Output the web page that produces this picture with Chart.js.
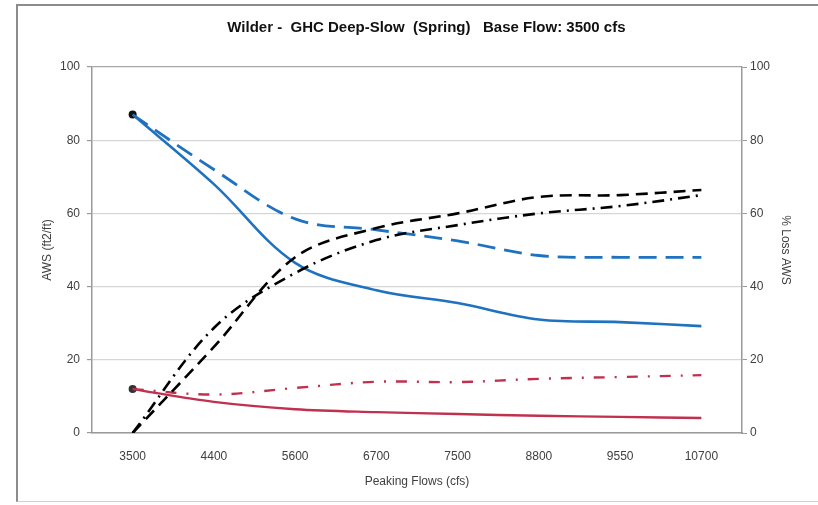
<!DOCTYPE html>
<html>
<head>
<meta charset="utf-8">
<title>Wilder - GHC Deep-Slow (Spring)</title>
<script src="https://cdn.jsdelivr.net/npm/chart.js@4.4.1/dist/chart.umd.min.js"></script>
<style>
body { margin: 0; background: #fff; overflow: hidden; }
#wrap { position: relative; width: 818px; height: 505px; }
#frame { position: absolute; left: 16px; top: 4px; width: 830px; height: 495px; border: 2px solid #8c8c8c; border-bottom: 1px solid #d0d0d0; }
#chart-canvas { position: absolute; left: 0; top: 0; }
</style>
</head>
<body>
<div id="wrap">
  <div id="frame"></div>
  <canvas id="chart-canvas" width="818" height="505"></canvas>
</div>
<script>
// peaking flows (cfs)
var flows = ['3500', '4400', '5600', '6700', '7500', '8800', '9550', '10700'];

// AWS (ft2/ft)
var awsSolidBlue = [87, 68, 46.5, 39, 35.5, 31, 30.3, 29.2];
var awsDashedBlue = [87, 72, 58.5, 55.5, 52.5, 48.5, 48, 48];
var awsSolidRed = [12, 8.5, 6.5, 5.7, 5.2, 4.7, 4.4, 4.1];
var awsDashDotRed = [12, 10.5, 12.3, 14, 13.9, 14.8, 15.3, 15.8];

// % loss AWS
var lossDashed = [0, 23.5, 48, 56, 60, 64.5, 65, 66.4];
var lossDashDot = [0, 28.7, 43.7, 52.7, 56.8, 60, 62, 65];

var yTicks = [0, 20, 40, 60, 80, 100];

var textColor = '#404040';
var font = { family: 'Liberation Sans, Arial, sans-serif', size: 12 };

function firstDot(ctx) {
    return ctx.dataIndex === 0 ? 4 : 0;
}

var chartdata = {
    labels: flows,
    datasets: [
        {
            label: 'loss dashed',
            data: lossDashed,
            yAxisID: 'y1',
            borderColor: '#000',
            borderWidth: 2.6,
            borderDash: [12, 7],
            pointRadius: 0,
            fill: false
        },
        {
            label: 'loss dash-dot',
            data: lossDashDot,
            yAxisID: 'y1',
            borderColor: '#000',
            borderWidth: 2.6,
            borderDash: [12, 6, 2, 6],
            pointRadius: 0,
            fill: false
        },
        {
            label: 'AWS blue dashed',
            data: awsDashedBlue,
            yAxisID: 'y',
            borderColor: '#1f72c0',
            borderWidth: 2.8,
            borderDash: [18, 9],
            pointRadius: 0,
            fill: false
        },
        {
            label: 'AWS red dash-dot',
            data: awsDashDotRed,
            yAxisID: 'y',
            borderColor: '#c0304f',
            borderWidth: 2.4,
            borderDash: [11, 10, 2, 10],
            pointRadius: 0,
            fill: false
        },
        {
            label: 'AWS blue',
            data: awsSolidBlue,
            yAxisID: 'y',
            borderColor: '#1f72c0',
            borderWidth: 2.6,
            pointRadius: firstDot,
            pointBackgroundColor: '#111',
            pointBorderWidth: 0,
            fill: false
        },
        {
            label: 'AWS red',
            data: awsSolidRed,
            yAxisID: 'y',
            borderColor: '#c0304f',
            borderWidth: 2.4,
            pointRadius: firstDot,
            pointBackgroundColor: '#333',
            pointBorderWidth: 0,
            fill: false
        }
    ]
};

var ctx = document.getElementById('chart-canvas');

var LineGraph = new Chart(ctx, {
    type: 'line',
    data: chartdata,
    options: {
        responsive: false,
        animation: false,
        tension: 0.35,
        layout: { padding: { left: 35, right: 21, top: 0, bottom: 12 } },
        plugins: {
            legend: { display: false },
            tooltip: { enabled: false },
            title: {
                display: true,
                // leading spaces nudge the centred title right, like the original
                text: '     Wilder -  GHC Deep-Slow  (Spring)   Base Flow: 3500 cfs',
                color: '#111',
                font: { family: font.family, size: 15, weight: 'bold' },
                padding: { top: 19, bottom: 30 }
            }
        },
        scales: {
            x: {
                offset: true,
                grid: { display: false },
                border: { display: true, color: '#9a9a9a', width: 1.5 },
                ticks: { color: textColor, font: font, padding: 8, maxRotation: 0 },
                title: { display: true, text: 'Peaking Flows (cfs)', color: textColor, font: font, padding: 4 },
                afterFit: function (scale) { scale.height = 60; }
            },
            y: {
                position: 'left',
                min: 0,
                max: 100,
                afterBuildTicks: function (scale) {
                    scale.ticks = yTicks.map(function (v) { return { value: v }; });
                },
                grid: {
                    color: function (c) { return c.tick && c.tick.value === 100 ? '#a8a8a8' : '#d6d6d6'; },
                    lineWidth: 1.2,
                    tickLength: 5,
                    tickColor: '#9a9a9a'
                },
                border: { display: true, color: '#9a9a9a', width: 1.5 },
                ticks: { color: textColor, font: font, padding: 7 },
                title: { display: true, text: 'AWS (ft2/ft)', color: textColor, font: font, padding: 5 },
                afterFit: function (scale) { scale.width = 57; }
            },
            y1: {
                position: 'right',
                min: 0,
                max: 100,
                afterBuildTicks: function (scale) {
                    scale.ticks = yTicks.map(function (v) { return { value: v }; });
                },
                grid: { drawOnChartArea: false, tickLength: 5, color: '#9a9a9a' },
                border: { display: true, color: '#9a9a9a', width: 1.5 },
                ticks: { color: textColor, font: font, padding: 3 },
                title: { display: true, text: '% Loss AWS', color: textColor, font: font, padding: 4 },
                afterFit: function (scale) { scale.width = 55; }
            }
        }
    }
});
</script>
</body>
</html>
